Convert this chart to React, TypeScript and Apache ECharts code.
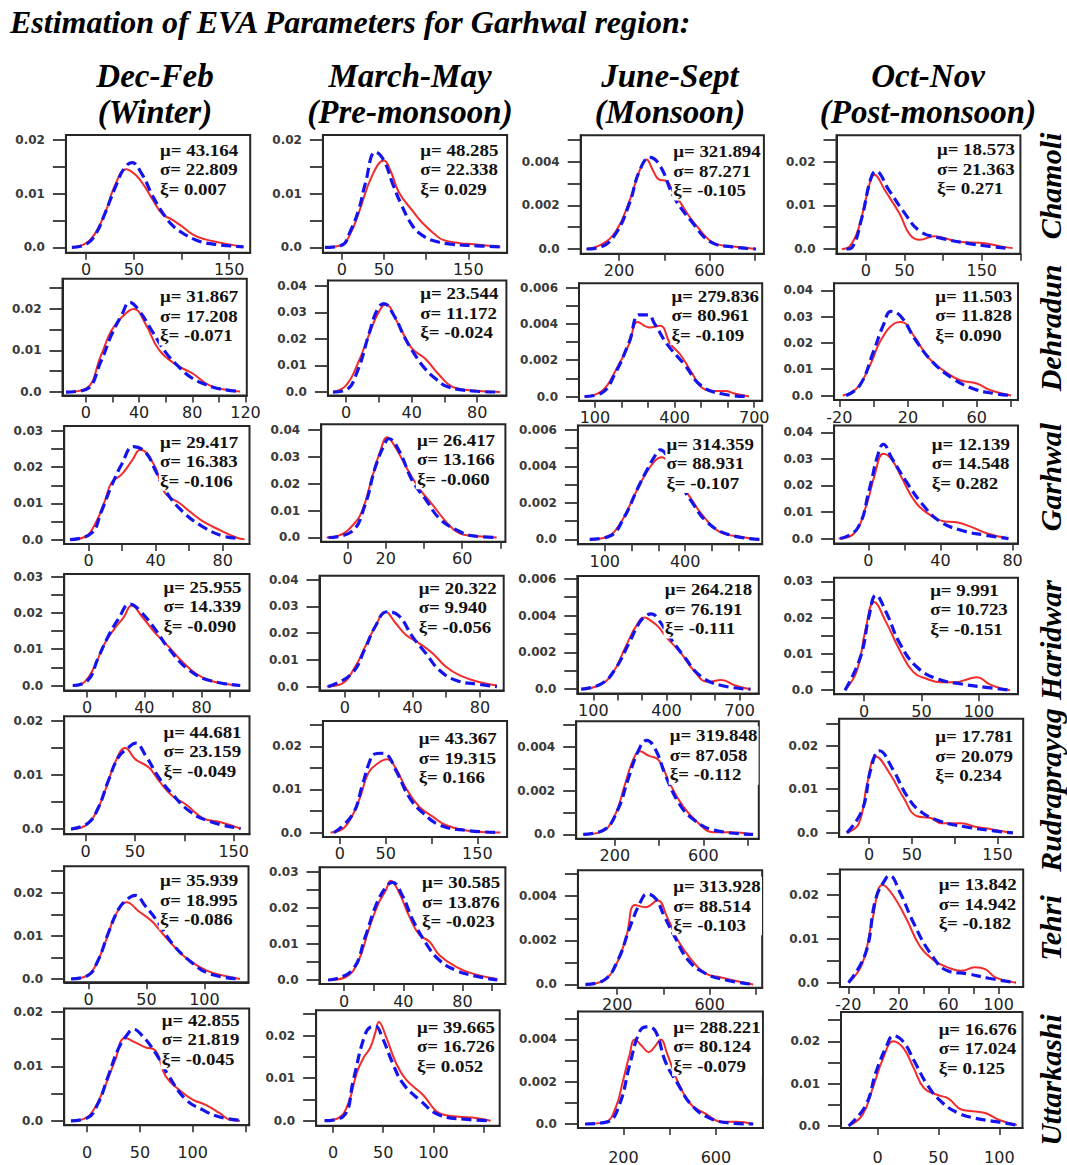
import React, { useEffect, useRef } from "react";
import * as echarts from "echarts";

// ---------- headings ----------
const pageTitle = "Estimation of EVA Parameters for Garhwal region:";
const seasonTitles = ["Dec-Feb", "March-May", "June-Sept", "Oct-Nov"];
const seasonSubtitles = ["(Winter)", "(Pre-monsoon)", "(Monsoon)", "(Post-monsoon)"];
const stations = ["Chamoli", "Dehradun", "Garhwal", "Haridwar", "Rudraprayag", "Tehri", "Uttarkashi"];

// ---------- fitted GEV parameters (rows: stations, columns: seasons) ----------
const muByStation = [
  ["43.164", "48.285", "321.894", "18.573"],
  ["31.867", "23.544", "279.836", "11.503"],
  ["29.417", "26.417", "314.359", "12.139"],
  ["25.955", "20.322", "264.218", "9.991"],
  ["44.681", "43.367", "319.848", "17.781"],
  ["35.939", "30.585", "313.928", "13.842"],
  ["42.855", "39.665", "288.221", "16.676"],
];
const sigmaByStation = [
  ["22.809", "22.338", "87.271", "21.363"],
  ["17.208", "11.172", "80.961", "11.828"],
  ["16.383", "13.166", "88.931", "14.548"],
  ["14.339", "9.940", "76.191", "10.723"],
  ["23.159", "19.315", "87.058", "20.079"],
  ["18.995", "13.876", "88.514", "14.942"],
  ["21.819", "16.726", "80.124", "17.024"],
];
const xiByStation = [
  ["0.007", "0.029", "-0.105", "0.271"],
  ["-0.071", "-0.024", "-0.109", "0.090"],
  ["-0.106", "-0.060", "-0.107", "0.282"],
  ["-0.090", "-0.056", "-0.111", "-0.151"],
  ["-0.049", "0.166", "-0.112", "0.234"],
  ["-0.086", "-0.023", "-0.103", "-0.182"],
  ["-0.045", "0.052", "-0.079", "0.125"],
];

// ---------- density curves: [value, density] ----------
// Kde = empirical density (red), Gev = fitted GEV density (blue dashed)
const chamoliWinterKde = [[-15,0],[0,0.0008],[10,0.0028],[20,0.0065],[30,0.0115],[42,0.0146],[52,0.0135],[62,0.0112],[70,0.0088],[80,0.0062],[90,0.0052],[100,0.004],[112,0.0024],[125,0.0015],[140,0.0009],[165,0.0001]];
const chamoliWinterGev = [[-15,0],[0,0.0006],[10,0.0025],[20,0.0065],[30,0.011],[40,0.0148],[48,0.0158],[58,0.0138],[70,0.0095],[80,0.0065],[90,0.0042],[100,0.0028],[115,0.0014],[130,0.0007],[165,0.0001]];
const chamoliPreKde = [[-20,0],[0,0.0005],[10,0.0025],[20,0.0064],[36,0.0134],[50,0.0162],[58,0.0142],[68,0.0102],[84,0.0068],[96,0.0045],[110,0.0025],[120,0.0014],[140,0.0008],[156,0.0006],[188,0.0001]];
const chamoliPreGev = [[-20,0],[0,0.0004],[10,0.003],[20,0.007],[28,0.012],[40,0.0178],[50,0.0162],[60,0.012],[70,0.0082],[84,0.004],[96,0.0022],[110,0.0012],[130,0.0006],[160,0.0003],[188,0.0001]];
const chamoliMonKde = [[56,0],[120,0.0002],[185,0.0008],[246,0.0022],[291,0.0036],[321,0.0041],[350,0.0036],[374,0.0032],[412,0.0031],[440,0.0026],[473,0.0021],[510,0.0015],[548,0.001],[600,0.0004],[639,0.0002],[715,0.0001],[806,0]];
const chamoliMonGev = [[56,0],[120,0.0001],[185,0.0007],[246,0.0021],[291,0.0036],[337,0.0042],[382,0.0038],[442,0.0024],[518,0.0013],[609,0.0003],[700,0.0001],[806,0]];
const chamoliPostKde = [[-31,0],[-20,0.0008],[-9,0.0049],[2,0.0127],[11,0.017],[26,0.0131],[44,0.008],[57,0.0033],[70,0.0021],[88,0.0029],[119,0.0017],[154,0.0013],[175,0.0006],[190,0.0002]];
const chamoliPostGev = [[-25,0],[-18,0.0003],[-5,0.0072],[6,0.0158],[13,0.0178],[30,0.0135],[48,0.0088],[70,0.0041],[97,0.0025],[132,0.0013],[160,0.0006],[181,0.0002]];

const dehradunWinterKde = [[-15,0],[0,0.0008],[11.5,0.0089],[19,0.0146],[27,0.0179],[36,0.0199],[45,0.0162],[55,0.0101],[68,0.0065],[80,0.0045],[93,0.0016],[108,0.0004],[116,0.0001]];
const dehradunWinterGev = [[-15,0],[0,0.0006],[11.5,0.0075],[19,0.0135],[27,0.0185],[33,0.0215],[40,0.0195],[50,0.0145],[60,0.0095],[70,0.006],[80,0.0033],[90,0.0018],[100,0.0008],[116,0.0001]];
const dehradunPreKde = [[-8,0],[0,0.0025],[7.6,0.0114],[14,0.0216],[19,0.029],[24,0.033],[32,0.0254],[40,0.0165],[48,0.0127],[57,0.0063],[65,0.0019],[77,0.0006],[94,0]];
const dehradunPreGev = [[-8,0],[0,0.0008],[7,0.008],[14,0.022],[19,0.031],[23,0.0333],[29,0.029],[36,0.0203],[42,0.014],[48,0.0089],[55,0.0048],[62,0.002],[77,0.0004],[94,0]];
const dehradunMonKde = [[61,0],[126,0.0003],[177,0.0014],[229,0.0029],[261,0.0041],[306,0.0038],[345,0.0039],[384,0.0029],[422,0.0023],[461,0.0014],[513,0.0004],[560,0.0003],[590,0.0003],[629,0.00015],[680,0]];
const dehradunMonGev = [[61,0],[126,0.0002],[177,0.0013],[229,0.003],[267,0.0045],[300,0.0045],[325,0.004],[371,0.0029],[435,0.0018],[500,0.0006],[577,0.00015],[680,0]];
const dehradunPostKde = [[-18,0],[-10,0.0026],[-2,0.0117],[4,0.0208],[12,0.0274],[16,0.028],[24,0.0221],[32,0.0143],[40,0.0098],[50,0.0059],[60,0.0046],[68,0.002],[80,0]];
const dehradunPostGev = [[-16,0],[-8,0.0039],[0,0.0169],[6,0.0274],[10,0.032],[16,0.03],[24,0.0215],[34,0.013],[46,0.0065],[58,0.0026],[70,0.0008],[80,0]];

const garhwalWinterKde = [[-11,0],[-2.4,0.0007],[3.6,0.004],[9.7,0.0106],[13.7,0.0157],[19.8,0.018],[25.9,0.0218],[30.9,0.0248],[38.9,0.0208],[43,0.0157],[46.4,0.0124],[54.2,0.0101],[60.2,0.0078],[68.3,0.005],[78.4,0.0026],[88.5,0.0005],[93,0.0001]];
const garhwalWinterGev = [[-11,0],[1.6,0.0017],[7.7,0.0078],[13.7,0.0148],[19.8,0.0208],[26.9,0.0257],[34,0.0241],[40,0.019],[46,0.0134],[56,0.0078],[68,0.0036],[80,0.001],[90.5,0.0003]];
const garhwalPreKde = [[-11,0],[-5,0.0006],[2,0.004],[7.5,0.0097],[12.8,0.0222],[17.2,0.0322],[20.7,0.0372],[25,0.0335],[30.3,0.0266],[37.3,0.0184],[44.4,0.0122],[51.5,0.0059],[58.6,0.0015],[65.6,0.0006],[78,0]];
const garhwalPreGev = [[-10,0],[2,0.0021],[9.2,0.0122],[14.5,0.026],[19.9,0.0354],[21.6,0.0366],[26.9,0.0322],[34,0.0209],[41,0.014],[48,0.0071],[57,0.0028],[65.6,0.0006],[78,0]];
const garhwalMonKde = [[44,0],[108,0.00015],[159,0.0009],[210,0.0024],[249,0.0035],[287,0.0043],[312,0.0045],[338,0.0042],[376,0.0032],[414,0.0024],[466,0.0013],[530,0.0004],[606,0.00015],[677,0]];
const garhwalMonGev = [[44,0],[121,0.0002],[172,0.0012],[223,0.0028],[261,0.0039],[293,0.0047],[306,0.0049],[331,0.0046],[376,0.0032],[427,0.002],[478,0.001],[555,0.0003],[677,0]];
const garhwalPostKde = [[-16.5,0],[-8,0.0019],[-1.2,0.0123],[3.5,0.0239],[8.3,0.0319],[13,0.0297],[18.7,0.0226],[26.3,0.0135],[34,0.009],[41.5,0.0065],[49,0.0061],[56.7,0.0045],[66,0.0019],[77.7,0]];
const garhwalPostGev = [[-15.6,0],[-6,0.0039],[0.6,0.0187],[5.3,0.0316],[8.3,0.0355],[13,0.0303],[20.6,0.0219],[30,0.0129],[39.6,0.0065],[51,0.0032],[64.4,0.0013],[77.7,0]];

const haridwarWinterKde = [[-10,0],[-2,0.0009],[5,0.0051],[12.3,0.0116],[19.4,0.0158],[25.3,0.0186],[31.2,0.022],[38.3,0.019],[47.7,0.0144],[57,0.0107],[66.7,0.0065],[76,0.0033],[85.6,0.0014],[99.7,0.0003],[107,0]];
const haridwarWinterGev = [[-10,0],[0.5,0.0014],[7.6,0.0075],[14.7,0.0135],[21.7,0.0182],[30,0.0224],[38.3,0.02],[47.7,0.0154],[57,0.0102],[71.4,0.0042],[85.6,0.0014],[107,0]];
const haridwarPreKde = [[-10.7,0],[-2,0.001],[6,0.0073],[12,0.0149],[18,0.0225],[24,0.028],[30,0.0238],[36,0.0194],[44,0.0162],[52,0.0124],[60,0.0073],[68,0.0042],[80,0.0016],[90,0.0004]];
const haridwarPreGev = [[-9.9,0],[4,0.0048],[12,0.0143],[18,0.0225],[25,0.028],[32,0.0265],[40,0.0187],[48,0.0124],[56,0.0061],[66,0.0023],[80,0.0008],[90,0]];
const haridwarMonKde = [[50,0],[120,0.0002],[176,0.0008],[232,0.0023],[274,0.0034],[310,0.0039],[338,0.0037],[366,0.0034],[401,0.0028],[457,0.002],[513,0.001],[569,0.0004],[626,0.0005],[682,0.0002],[745,0]];
const haridwarMonGev = [[50,0],[134,0.0003],[190,0.0011],[246,0.0025],[288,0.0036],[316,0.004],[338,0.0041],[366,0.0038],[415,0.0028],[471,0.0018],[541,0.0007],[626,0.0002],[745,0]];
const haridwarPostKde = [[-16.5,0],[-6,0.0055],[1.4,0.0168],[8.8,0.0243],[19.3,0.0187],[31,0.0111],[43,0.005],[55,0.0031],[67,0.0022],[79,0.0022],[91,0.0031],[98.5,0.0036],[109,0.0017],[118,0.0006],[127,0]];
const haridwarPostGev = [[-16.5,0],[-3,0.0092],[4.5,0.0206],[10.4,0.0262],[19.3,0.0215],[31,0.013],[46,0.0064],[64,0.0031],[85,0.0017],[106,0.0008],[127,0]];

const rudraprayagWinterKde = [[-14.7,0],[-0.5,0.0006],[9.3,0.0026],[19.6,0.007],[29.9,0.0123],[40.2,0.015],[50.5,0.0129],[64.2,0.0114],[74.4,0.0089],[88.2,0.0061],[102,0.0045],[119,0.002],[136,0.0013],[157,0.0001]];
const rudraprayagWinterGev = [[-14.7,0],[2.4,0.0011],[12.8,0.0039],[23,0.0089],[33.3,0.0133],[43.6,0.0151],[50.5,0.0159],[60.8,0.0136],[74.4,0.0095],[88.2,0.0064],[105.4,0.0033],[126,0.0014],[157,0.0001]];
const rudraprayagPreKde = [[-10.1,0],[5.5,0.0013],[20.3,0.0072],[31.3,0.0139],[42.4,0.0162],[51.6,0.017],[60.8,0.015],[71.9,0.0104],[86.6,0.006],[101.4,0.0037],[116,0.0017],[138,0.0005],[175,0]];
const rudraprayagPreGev = [[-6.4,0],[13.6,0.0041],[24.7,0.0111],[32,0.0162],[37.5,0.0182],[44.9,0.0184],[50.4,0.0182],[61.5,0.0143],[76.3,0.008],[91,0.0045],[109.5,0.0017],[138,0.0005],[175,0]];
const rudraprayagMonKde = [[57,0],[135,0.0001],[197,0.0008],[243,0.0022],[282,0.0034],[313,0.0038],[352,0.0036],[398,0.0034],[445,0.0024],[507,0.0013],[569,0.0006],[646,0.0001],[724,0.0001],[825,0]];
const rudraprayagMonGev = [[57,0],[150,0.0002],[212,0.0011],[259,0.0025],[305,0.0038],[344,0.0043],[383,0.0039],[429,0.0027],[491,0.0014],[553,0.0007],[646,0.0002],[825,0]];
const rudraprayagPostKde = [[-25.8,0],[-11.8,0.0022],[-1.8,0.0116],[8.2,0.0175],[24.2,0.0136],[40.2,0.0081],[56.2,0.0038],[72.2,0.0034],[84.2,0.0022],[108,0.0022],[124,0.0014],[144,0.0008],[168,0]];
const rudraprayagPostGev = [[-25.8,0],[-7.8,0.0053],[2.2,0.0147],[12.2,0.0188],[28.2,0.0144],[44.2,0.0085],[60.2,0.0049],[84.2,0.0026],[112,0.0014],[140,0.0006],[168,0]];

const tehriWinterKde = [[-15,0],[-3.4,0.0005],[5.3,0.0027],[14,0.0082],[22.8,0.0145],[33,0.0178],[43.2,0.0157],[54.9,0.0133],[63.6,0.0106],[75.3,0.0071],[86.9,0.0043],[101.5,0.002],[116,0.0008],[130.6,0]];
const tehriWinterGev = [[-15,0],[-0.5,0.0008],[8.2,0.0043],[17,0.0106],[25.7,0.0161],[33,0.0184],[40.2,0.0194],[49,0.0169],[60.6,0.0129],[72.2,0.0082],[86.9,0.0043],[104.4,0.0012],[130.6,0]];
const tehriPreKde = [[-10.9,0],[0.5,0.0007],[9.7,0.0054],[16.5,0.0139],[23.4,0.0214],[28,0.0247],[31.4,0.0275],[37.1,0.0242],[44,0.0176],[50.9,0.0125],[57.7,0.0106],[64.6,0.0068],[76,0.0036],[87.5,0.0017],[103.5,0.0003]];
const tehriPreGev = [[-10.9,0],[5.1,0.0026],[14.3,0.012],[21.2,0.0204],[28,0.0256],[32.6,0.027],[39.4,0.0233],[46.3,0.0167],[55.4,0.0101],[64.6,0.0054],[76,0.0026],[87.5,0.0012],[103.5,0]];
const tehriMonKde = [[63,0],[137,0.00016],[196,0.0009],[240,0.0022],[277,0.0036],[322,0.0035],[374,0.0038],[418,0.003],[462,0.002],[522,0.0011],[581,0.0005],[655,0.0003],[729,0.00012],[788,0]];
const tehriMonGev = [[63,0],[144,0.0002],[203,0.0011],[255,0.0026],[299,0.0037],[329,0.0041],[366,0.0039],[403,0.0031],[447,0.0022],[507,0.0011],[581,0.0005],[670,0.0002],[788,0]];
const tehriPostKde = [[-19.9,0],[-9,0.0043],[-0.8,0.0145],[7.4,0.0224],[15.6,0.02],[26.5,0.0145],[37.4,0.0082],[48.4,0.0051],[59.3,0.0035],[70.2,0.0027],[81.1,0.0035],[89.3,0.0031],[97.5,0.0012],[113.9,0]];
const tehriPostGev = [[-19.9,0],[-6.3,0.0067],[1.9,0.0192],[10.1,0.0239],[12.8,0.0245],[21,0.0208],[32,0.0137],[45.6,0.0067],[59.3,0.0027],[75.7,0.002],[92.1,0.001],[113.9,0]];

const uttarkashiWinterKde = [[-15.4,0],[-2.6,0.0004],[7,0.0023],[16.7,0.0063],[26.3,0.011],[35.9,0.0152],[45.5,0.0144],[55.1,0.0135],[64.7,0.0129],[74.4,0.0082],[87.2,0.0057],[100,0.0039],[112.8,0.0029],[125.6,0.0014],[135.3,0.0002],[144.9,0]];
const uttarkashiWinterGev = [[-15.4,0],[0.6,0.0006],[10.3,0.0032],[19.9,0.0082],[29.5,0.0132],[37.5,0.0157],[43.9,0.0168],[51.9,0.0157],[64.7,0.0125],[77.5,0.0082],[93.6,0.0039],[109.6,0.002],[125.6,0.0007],[144.9,0.0001]];
const uttarkashiPreKde = [[-8.3,0],[5.2,0.0006],[15.3,0.0041],[23.8,0.0113],[30.5,0.0148],[37.2,0.0172],[42.3,0.0208],[45.7,0.0232],[52.4,0.02],[62.5,0.0137],[72.6,0.0097],[89.5,0.0061],[106.4,0.0017],[123.2,0.001],[143.4,0.0006],[157,0]];
const uttarkashiPreGev = [[-8.3,0],[10.3,0.001],[20.4,0.0097],[30.5,0.0192],[37.2,0.022],[42.3,0.0222],[49,0.0196],[59.1,0.0137],[69.2,0.0089],[86.1,0.0049],[106.4,0.0013],[133.3,0.0003],[157,0]];
const uttarkashiMonKde = [[34,0],[123,0.0001],[167,0.0008],[197,0.002],[227,0.0033],[249,0.004],[279,0.0037],[309,0.0034],[338,0.0037],[361,0.004],[390,0.0033],[435,0.002],[494,0.0009],[553,0.0005],[627,0.0001],[687,0.0001],[761,0]];
const uttarkashiMonGev = [[34,0],[130,0.0001],[182,0.0009],[227,0.0028],[271,0.0044],[301,0.0046],[338,0.0044],[383,0.0029],[435,0.0019],[494,0.0009],[568,0.0003],[657,0.00005],[761,0]];
const uttarkashiPostKde = [[-23.7,0],[-12.4,0.0026],[-4,0.0089],[4.5,0.0159],[13,0.02],[21.4,0.0183],[29.8,0.0136],[38.3,0.0089],[49.5,0.0073],[58,0.0065],[69.3,0.0038],[80.5,0.0034],[89,0.003],[100,0.0014],[114.3,0.0002]];
const uttarkashiPostGev = [[-23.7,0],[-9.6,0.0049],[-1.2,0.0128],[7.2,0.0187],[13,0.0213],[21.4,0.0198],[29.8,0.0155],[41.1,0.0096],[52.4,0.0057],[66.4,0.003],[80.5,0.0018],[97.4,0.001],[114.3,0.0002]];

const kdeCurves = [
  [chamoliWinterKde, chamoliPreKde, chamoliMonKde, chamoliPostKde],
  [dehradunWinterKde, dehradunPreKde, dehradunMonKde, dehradunPostKde],
  [garhwalWinterKde, garhwalPreKde, garhwalMonKde, garhwalPostKde],
  [haridwarWinterKde, haridwarPreKde, haridwarMonKde, haridwarPostKde],
  [rudraprayagWinterKde, rudraprayagPreKde, rudraprayagMonKde, rudraprayagPostKde],
  [tehriWinterKde, tehriPreKde, tehriMonKde, tehriPostKde],
  [uttarkashiWinterKde, uttarkashiPreKde, uttarkashiMonKde, uttarkashiPostKde],
];
const gevCurves = [
  [chamoliWinterGev, chamoliPreGev, chamoliMonGev, chamoliPostGev],
  [dehradunWinterGev, dehradunPreGev, dehradunMonGev, dehradunPostGev],
  [garhwalWinterGev, garhwalPreGev, garhwalMonGev, garhwalPostGev],
  [haridwarWinterGev, haridwarPreGev, haridwarMonGev, haridwarPostGev],
  [rudraprayagWinterGev, rudraprayagPreGev, rudraprayagMonGev, rudraprayagPostGev],
  [tehriWinterGev, tehriPreGev, tehriMonGev, tehriPostGev],
  [uttarkashiWinterGev, uttarkashiPreGev, uttarkashiMonGev, uttarkashiPostGev],
];

// ---------- x-axis tick values and labelled ticks (row-major panels) ----------
const xTickSets = [
  [0, 50, 100, 150], [0, 50, 100, 150], [200, 400, 600, 800], [0, 50, 100, 150, 200],
  [0, 20, 40, 60, 80, 100, 120], [0, 20, 40, 60, 80], [100, 200, 300, 400, 500, 600, 700], [-20, 0, 20, 40, 60, 80],
  [0, 20, 40, 60, 80], [0, 20, 40, 60, 80], [100, 200, 300, 400, 500, 600], [0, 20, 40, 60, 80],
  [0, 20, 40, 60, 80, 100], [0, 20, 40, 60, 80], [100, 200, 300, 400, 500, 600, 700], [0, 50, 100],
  [0, 50, 100, 150], [0, 50, 100, 150], [200, 400, 600, 800], [0, 50, 100, 150],
  [0, 50, 100], [0, 20, 40, 60, 80, 100], [200, 400, 600, 800], [-20, 0, 20, 40, 60, 80, 100],
  [0, 50, 100, 150], [0, 50, 100, 150], [200, 400, 600], [0, 50, 100],
];
const xLabelSets = [
  [0, 50, 150], [0, 50, 150], [200, 600], [0, 50, 150],
  [0, 40, 80, 120], [0, 40, 80], [100, 400, 700], [-20, 20, 60],
  [0, 40, 80], [0, 20, 60], [100, 400], [0, 40, 80],
  [0, 40, 80], [0, 40, 80], [100, 400, 700], [0, 50, 100],
  [0, 50, 150], [0, 50, 150], [200, 600], [0, 50, 150],
  [0, 50, 100], [0, 40, 80], [200, 600], [-20, 20, 60, 100],
  [0, 50, 100], [0, 50, 100], [200, 600], [0, 50, 100],
];
// ---------- y-axis ticks: [tick step, top tick, label step] ----------
const yTickSpecs = [
  [0.005, 0.02, 0.01], [0.005, 0.02, 0.01], [0.001, 0.005, 0.002], [0.005, 0.025, 0.01],
  [0.005, 0.025, 0.01], [0.01, 0.04, 0.01], [0.001, 0.006, 0.002], [0.01, 0.04, 0.01],
  [0.005, 0.03, 0.01], [0.01, 0.04, 0.01], [0.001, 0.006, 0.002], [0.01, 0.04, 0.01],
  [0.005, 0.03, 0.01], [0.01, 0.04, 0.01], [0.001, 0.006, 0.002], [0.005, 0.03, 0.01],
  [0.005, 0.02, 0.01], [0.005, 0.025, 0.01], [0.001, 0.005, 0.002], [0.005, 0.025, 0.01],
  [0.005, 0.025, 0.01], [0.005, 0.03, 0.01], [0.001, 0.005, 0.002], [0.005, 0.025, 0.01],
  [0.005, 0.02, 0.01], [0.005, 0.025, 0.01], [0.001, 0.005, 0.002], [0.005, 0.025, 0.01],
];

// ---------- panel geometry (row-major) ----------
const panelBoxes = [
  [65.9, 135.1, 250.2, 252.8], [322.9, 135.1, 507.1, 252.8], [580.7, 135.3, 763.9, 253.8], [836.5, 135.3, 1020.4, 253.8],
  [62.5, 278.8, 246.8, 395.5], [327.9, 280.5, 506.4, 395.5], [579, 283.2, 762.2, 400.7], [834.1, 283.2, 1018, 400],
  [64.2, 425.9, 249.5, 543.9], [321.2, 424.2, 505.4, 541.8], [577.9, 425.4, 762.2, 544.2], [834.1, 425.4, 1018, 543.6],
  [64.2, 574, 249.5, 690.6], [319.5, 575.7, 503.7, 690.6], [577.3, 576.1, 758.8, 693.6], [834.1, 577.8, 1018, 694.2],
  [64.2, 716.2, 249.5, 834.2], [322.9, 721, 507.1, 836.9], [576.2, 721.2, 758.8, 838.7], [839.2, 718.8, 1023.2, 837],
  [64.2, 866.3, 248.5, 982.3], [319.5, 867.3, 505.4, 984], [577.9, 870.2, 762.2, 987.7], [839.9, 869.5, 1023.2, 987],
  [64.2, 1008.5, 249.2, 1125.2], [316.1, 1010.2, 499.7, 1125.8], [577.9, 1011.4, 762.9, 1132], [841, 1012.1, 1022.5, 1132],
];
const xRanges = [
  [-21.3, 172], [-22.4, 196], [30, 841], [-37.8, 200],
  [-17.6, 121], [-11.1, 97.8], [40, 730], [-23, 84],
  [-14.5, 96], [-13.8, 82.6], [0, 687], [-19, 83],
  [-16, 113.5], [-15, 94], [34, 779], [-26, 134],
  [-21.6, 166], [-18.5, 182.5], [25, 851], [-34.8, 180],
  [-21, 138], [-16.7, 109], [30, 827], [-26.8, 119.7],
  [-21.8, 153.6], [-16.8, 166], [3, 803], [-30, 119],
];
const yRanges = [
  [-0.001, 0.02095], [-0.001, 0.02095], [-0.00022, 0.00521], [-0.0011, 0.02605],
  [-0.00083, 0.02712], [-0.0013, 0.042], [-0.00023, 0.00624], [-0.0017, 0.04274],
  [-0.0012, 0.0314], [-0.0016, 0.042], [-0.00026, 0.00624], [-0.0019, 0.0426],
  [-0.0014, 0.0307], [-0.0015, 0.0415], [-0.00024, 0.00615], [-0.0011, 0.031],
  [-0.00094, 0.02088], [-0.001, 0.02588], [-0.0002, 0.00518], [-0.00094, 0.02612],
  [-0.00078, 0.02612], [-0.0011, 0.0312], [-0.00015, 0.00518], [-0.001, 0.02588],
  [-0.0008, 0.02063], [-0.0012, 0.02595], [-0.00019, 0.00533], [-0.0005, 0.0269],
];
// left edge and centre of first line of each parameter block
const paramAnchors = [
  [158.9, 150.4], [419.2, 150.4], [672.1, 151.7], [935.8, 149.7],
  [158.9, 296.7], [419.2, 294.0], [670.4, 296.2], [934.1, 296.2],
  [158.9, 442.1], [415.8, 440.4], [665.3, 444.2], [930.7, 444.2],
  [162.3, 587.5], [417.5, 588.5], [663.6, 589.8], [929, 590.5],
  [162.3, 732.1], [417.5, 738.9], [668.7, 736], [934.1, 737],
  [158.9, 880.9], [420.9, 882.6], [672.1, 886.6], [937.5, 884.9],
  [160.6, 1020.4], [415.8, 1027.1], [672.1, 1027.5], [937.5, 1029.2],
];
const headerCenters = [155, 410, 670, 928];
const stationCenters = [186, 328, 477, 640, 790, 928, 1080];

const SERIF = '"Liberation Serif", "Times New Roman", serif';
const SANS = '"DejaVu Sans", sans-serif';

function buildOption() {
  const grid: any[] = [];
  const xAxis: any[] = [];
  const yAxis: any[] = [];
  const series: any[] = [];
  const elements: any[] = [];

  for (let r = 0; r < stations.length; r++) {
    for (let c = 0; c < seasonTitles.length; c++) {
      const i = r * 4 + c;
      const [x1, y1, x2, y2] = panelBoxes[i];
      grid.push({
        left: x1, top: y1, width: x2 - x1, height: y2 - y1,
        show: true, borderColor: "#262626", borderWidth: 2, backgroundColor: "#fff",
      });

      const [step, top, lstep] = yTickSpecs[i];
      const yTicks: number[] = [];
      for (let k = 0; k * step <= top + 1e-9; k++) yTicks.push(+(k * step).toFixed(4));
      const yLabels = yTicks.filter((v) => Math.abs(v / lstep - Math.round(v / lstep)) < 1e-6);

      const xMargin = r === 6 ? (c < 2 ? 19 : 21) : 9;
      xAxis.push({
        type: "value", gridIndex: i, min: xRanges[i][0], max: xRanges[i][1],
        splitLine: { show: false },
        axisLine: { show: true, onZero: false, lineStyle: { color: "#262626", width: 2 } },
        axisTick: { show: true, inside: false, length: 7, customValues: xTickSets[i], lineStyle: { color: "#333", width: 1.6 } },
        axisLabel: {
          show: true, customValues: xLabelSets[i], margin: xMargin,
          fontFamily: SANS, fontSize: 16, color: "#222",
          formatter: (v: number) => String(v),
        },
      });
      yAxis.push({
        type: "value", gridIndex: i, min: yRanges[i][0], max: yRanges[i][1],
        splitLine: { show: false },
        axisLine: { show: true, onZero: false, lineStyle: { color: "#262626", width: 2 } },
        axisTick: { show: true, inside: false, length: 13, customValues: yTicks, lineStyle: { color: "#333", width: 1.8 } },
        axisLabel: {
          show: true, customValues: yLabels, margin: 21,
          fontFamily: SANS, fontSize: 12, fontWeight: "bold", color: "#3a3a3a",
          formatter: (v: number) => (Math.abs(v) < 1e-9 ? "0.0" : String(+v.toFixed(4))),
        },
      });

      series.push({
        type: "line", xAxisIndex: i, yAxisIndex: i, data: kdeCurves[r][c],
        showSymbol: false, smooth: 0.45, silent: true,
        lineStyle: { color: "#f22c2c", width: 2 }, z: 2,
      });
      series.push({
        type: "line", xAxisIndex: i, yAxisIndex: i, data: gevCurves[r][c],
        showSymbol: false, smooth: 0.45, silent: true,
        lineStyle: { color: "#1414ee", width: 3.2, type: [10, 5] }, z: 3,
      });

      const [tx, ty] = paramAnchors[i];
      elements.push({
        type: "text", x: tx, y: ty - 9.75, scaleX: 1.18, z: 100,
        style: {
          text: `μ= ${muByStation[r][c]}\nσ= ${sigmaByStation[r][c]}\nξ= ${xiByStation[r][c]}`,
          font: `bold 16px ${SERIF}`, fill: "#111", lineHeight: 19.5,
          backgroundColor: "#fff", padding: [0, 1],
          align: "left", verticalAlign: "top", textAlign: "left", textVerticalAlign: "top",
        },
      });
    }
  }

  elements.push({
    type: "text", x: 10, y: 22, z: 100,
    style: {
      text: pageTitle, font: `italic bold 32px ${SERIF}`, fill: "#000",
      align: "left", verticalAlign: "middle", textAlign: "left", textVerticalAlign: "middle",
    },
  });
  seasonTitles.forEach((t, c) => {
    elements.push({
      type: "text", x: headerCenters[c], y: 76, z: 100,
      style: {
        text: t, font: `italic bold 33px ${SERIF}`, fill: "#000",
        align: "center", verticalAlign: "middle", textAlign: "center", textVerticalAlign: "middle",
      },
    });
    elements.push({
      type: "text", x: headerCenters[c], y: 112, z: 100,
      style: {
        text: seasonSubtitles[c], font: `italic bold 33px ${SERIF}`, fill: "#000",
        align: "center", verticalAlign: "middle", textAlign: "center", textVerticalAlign: "middle",
      },
    });
  });
  stations.forEach((s, r) => {
    elements.push({
      type: "text", x: 1050, y: stationCenters[r], rotation: Math.PI / 2, z: 100,
      style: {
        text: s, font: `italic bold 30px ${SERIF}`, fill: "#000",
        align: "center", verticalAlign: "middle", textAlign: "center", textVerticalAlign: "middle",
      },
    });
  });

  return {
    animation: false,
    backgroundColor: "#fff",
    grid, xAxis, yAxis, series,
    graphic: { elements },
  };
}

export default function App() {
  const ref = useRef<HTMLDivElement>(null);
  useEffect(() => {
    if (!ref.current) return;
    const chart = echarts.init(ref.current, undefined, { renderer: "svg" });
    chart.setOption(buildOption() as any);
    return () => chart.dispose();
  }, []);
  return (
    <div
      ref={ref}
      style={{ position: "absolute", left: 0, top: 0, width: 1067, height: 1165, background: "#fff" }}
    />
  );
}
